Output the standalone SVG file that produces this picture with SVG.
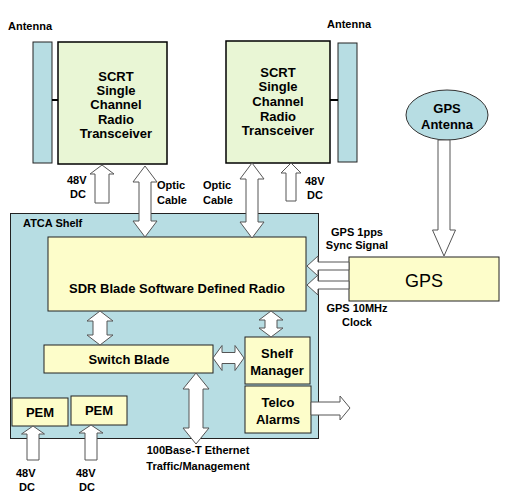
<svg xmlns="http://www.w3.org/2000/svg" width="507" height="498" viewBox="0 0 507 498">
<style>
text{font-family:"Liberation Sans",Arial,sans-serif;font-weight:bold;fill:#000}
.lbl{font-size:11px}
.box{font-size:13px}
.green{fill:#e9f6d5;stroke:#000;stroke-width:1.5}
.blue{fill:#b7dde3;stroke:#222;stroke-width:1}
.yellow{fill:#fdfdca;stroke:#222;stroke-width:1}
.arr{fill:#fff;stroke:#555;stroke-width:1}
</style>
<rect width="507" height="498" fill="#fff"/>
<g id="atca-shelf">
<rect class="blue" x="10.5" y="213.5" width="308" height="225"/>
<text class="lbl" x="23" y="227">ATCA Shelf</text>
</g>
<g id="antenna-left">
<rect class="blue" x="33" y="42" width="19" height="121"/>
<line x1="52" y1="100" x2="58" y2="100" stroke="#000" stroke-width="2"/>
<text class="lbl" x="8" y="30">Antenna</text>
</g>
<g id="scrt-left">
<rect class="green" x="58" y="42" width="109" height="122"/>
<text class="box" text-anchor="middle" x="116" y="81">SCRT</text>
<text class="box" text-anchor="middle" x="116" y="95">Single</text>
<text class="box" text-anchor="middle" x="116" y="109">Channel</text>
<text class="box" text-anchor="middle" x="116" y="124">Radio</text>
<text class="box" text-anchor="middle" x="116" y="138">Transceiver</text>
</g>
<g id="scrt-right">
<rect class="green" x="226" y="41" width="104" height="122"/>
<text class="box" text-anchor="middle" x="278" y="77">SCRT</text>
<text class="box" text-anchor="middle" x="278" y="91">Single</text>
<text class="box" text-anchor="middle" x="278" y="106">Channel</text>
<text class="box" text-anchor="middle" x="278" y="121">Radio</text>
<text class="box" text-anchor="middle" x="278" y="135">Transceiver</text>
</g>
<g id="antenna-right">
<rect class="blue" x="338" y="43" width="19" height="119"/>
<line x1="330" y1="100" x2="338" y2="100" stroke="#000" stroke-width="2"/>
<text class="lbl" x="327" y="28">Antenna</text>
</g>
<g id="gps-antenna">
<ellipse cx="447" cy="115" rx="41" ry="25" fill="#b7dde3" stroke="#333" stroke-width="1"/>
<text class="box" text-anchor="middle" x="447" y="113">GPS</text>
<text class="box" text-anchor="middle" x="447" y="129">Antenna</text>
</g>
<g id="gps">
<rect class="yellow" x="349" y="257" width="150" height="44"/>
<text text-anchor="middle" x="424" y="287" style="font-size:18px;font-weight:normal">GPS</text>
</g>
<g id="sdr-blade">
<rect class="yellow" x="48" y="237" width="258" height="74"/>
<text class="box" text-anchor="middle" x="177" y="293">SDR Blade Software Defined Radio</text>
</g>
<g id="switch-blade">
<rect class="yellow" x="44" y="345" width="169" height="28"/>
<text class="box" text-anchor="middle" x="129" y="364">Switch Blade</text>
</g>
<g id="shelf-manager">
<rect class="yellow" x="245" y="337" width="65" height="47"/>
<text class="box" text-anchor="middle" x="277" y="358">Shelf</text>
<text class="box" text-anchor="middle" x="277" y="375">Manager</text>
</g>
<g id="telco-alarms">
<rect class="yellow" x="245" y="386" width="66" height="47"/>
<text class="box" text-anchor="middle" x="278" y="407">Telco</text>
<text class="box" text-anchor="middle" x="278" y="424">Alarms</text>
</g>
<g id="pem-1">
<rect class="yellow" x="12" y="398" width="56" height="28"/>
<text class="box" text-anchor="middle" x="40" y="417">PEM</text>
</g>
<g id="pem-2">
<rect class="yellow" x="71" y="396" width="56" height="29"/>
<text class="box" text-anchor="middle" x="99" y="415">PEM</text>
</g>
<g id="connectors">
<path class="arr" d="M102,165 L114,174 L109,174 L109,203 L95,203 L95,174 L90,174 Z"/>
<path class="arr" d="M145,166 L157,182 L151,182 L151,221 L157,221 L145,237 L133,221 L139,221 L139,182 L133,182 Z"/>
<path class="arr" d="M252,163 L264,179 L258,179 L258,222 L264,222 L252,238 L240,222 L246,222 L246,179 L240,179 Z"/>
<path class="arr" d="M291,163 L301,173 L296,173 L296,201 L286,201 L286,173 L281,173 Z"/>
<path class="arr" d="M444,256 L455.5,230 L450,230 L450,140 L438,140 L438,230 L432.5,230 Z"/>
<path class="arr" d="M307,266 L318,256 L318,262 L349,262 L349,270 L318,270 L318,276 Z"/>
<path class="arr" d="M307,285 L318,275 L318,281 L349,281 L349,289 L318,289 L318,295 Z"/>
<path class="arr" d="M100,311 L113,321 L107,321 L107,335 L113,335 L100,345 L87,335 L93,335 L93,321 L87,321 Z"/>
<path class="arr" d="M271,311 L283,320 L277,320 L277,328 L283,328 L271,337 L259,328 L265,328 L265,320 L259,320 Z"/>
<path class="arr" d="M213,358 L222,345.5 L222,352.5 L235,352.5 L235,345.5 L244,358 L235,370.5 L235,363.5 L222,363.5 L222,370.5 Z"/>
<path class="arr" d="M196,373 L209,389 L203,389 L203,428 L209,428 L196,444 L183,428 L189,428 L189,389 L183,389 Z"/>
<path class="arr" d="M350,408 L340,396 L340,402 L311,402 L311,415 L340,415 L340,420 Z"/>
<path class="arr" d="M33,426 L44.5,434 L39,434 L39,460 L27,460 L27,434 L21.5,434 Z"/>
<path class="arr" d="M91,425 L103,433 L97,433 L97,460 L85,460 L85,433 L79,433 Z"/>
</g>
<g id="labels">
<text class="lbl" x="67" y="184">48V</text>
<text class="lbl" x="70" y="198">DC</text>
<text class="lbl" x="157" y="189">Optic</text>
<text class="lbl" x="157" y="204">Cable</text>
<text class="lbl" x="203" y="189">Optic</text>
<text class="lbl" x="203" y="204">Cable</text>
<text class="lbl" x="305" y="185">48V</text>
<text class="lbl" x="307" y="199">DC</text>
<text class="lbl" text-anchor="middle" x="357" y="236">GPS 1pps</text>
<text class="lbl" text-anchor="middle" x="357" y="249">Sync Signal</text>
<text class="lbl" text-anchor="middle" x="357" y="312">GPS 10MHz</text>
<text class="lbl" text-anchor="middle" x="357" y="326">Clock</text>
<text class="lbl" text-anchor="middle" x="198" y="454">100Base-T Ethernet</text>
<text class="lbl" text-anchor="middle" x="198" y="470">Traffic/Management</text>
<text class="lbl" x="16" y="477">48V</text>
<text class="lbl" x="19" y="491">DC</text>
<text class="lbl" x="76" y="477">48V</text>
<text class="lbl" x="79" y="491">DC</text>
</g>
</svg>
